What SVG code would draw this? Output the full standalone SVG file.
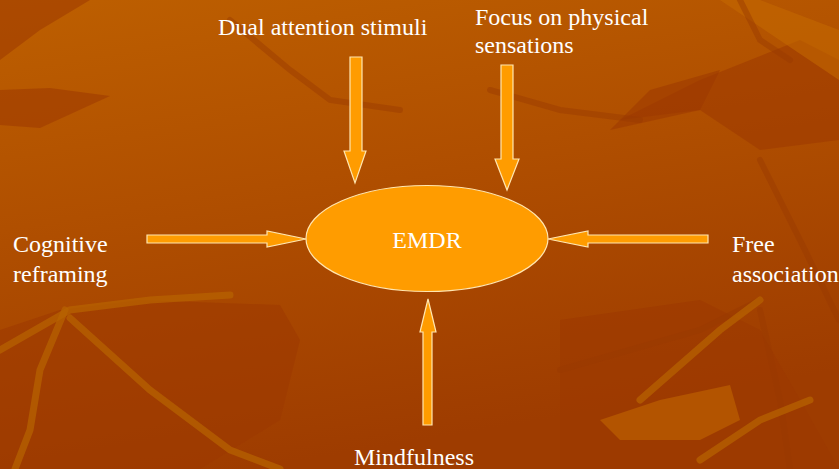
<svg xmlns="http://www.w3.org/2000/svg" width="839" height="469" viewBox="0 0 839 469">
<defs>
<linearGradient id="bg" x1="0" y1="0" x2="0.3" y2="1">
<stop offset="0" stop-color="#bd5f00"/>
<stop offset="0.45" stop-color="#b04f00"/>
<stop offset="1" stop-color="#9e3c00"/>
</linearGradient>
<style>
.lbl{font-family:"Liberation Serif","Times New Roman",serif;font-size:24px;fill:#ffffff}
.arrow{fill:#ff9c00;stroke:#ffe6b0;stroke-width:1.2;stroke-linejoin:miter}
.dark{fill:#9c3800;opacity:0.55}
.light{fill:#c46a00;opacity:0.55}
.vein{fill:none;stroke:#b86400;stroke-width:7;stroke-linecap:round;opacity:0.7}
.dvein{fill:none;stroke:#9a3a00;stroke-width:6;stroke-linecap:round;opacity:0.45}
</style>
</defs>
<g id="background">
<rect width="839" height="469" fill="url(#bg)"/>
<path class="dark" d="M0 60 L40 30 L90 0 L0 0 Z"/>
<path class="dark" d="M0 90 L50 88 L110 96 L40 128 L0 125 Z"/>
<path class="dark" d="M0 330 L60 310 L140 300 L280 305 L300 340 L280 420 L200 469 L0 469 Z"/>
<path class="dark" d="M560 320 L700 300 L760 330 L800 400 L839 469 L560 469 Z"/>
<path class="dark" d="M620 120 L700 80 L800 40 L839 60 L839 140 L760 150 L700 110 Z"/>
<path class="dark" d="M610 130 L650 90 L720 70 L700 110 Z"/>
<path class="light" d="M600 420 L660 400 L730 385 L740 420 L700 440 L620 440 Z"/>
<path class="light" d="M720 0 L760 0 L839 30 L839 80 Z" opacity="0.4"/>
<path class="dvein" d="M230 20 L290 70 L330 100 L400 110"/>
<path class="dvein" d="M490 90 L560 110 L640 120"/>
<path class="dvein" d="M740 0 L760 40 L790 60"/>
<path class="dvein" d="M760 160 L800 240 L839 320"/>
<path class="dvein" d="M560 370 L700 330 L760 300"/>
<path class="dvein" d="M760 310 L780 400 L790 469"/>
<path class="vein" d="M0 350 L70 310 L150 300 L230 295"/>
<path class="vein" d="M65 310 L40 370 L30 430 L15 469"/>
<path class="vein" d="M70 318 L150 390 L230 450 L280 469"/>
<path class="vein" d="M640 400 L720 330 L760 300"/>
<path class="vein" d="M700 460 L760 420 L810 400" opacity="0.5"/>
</g>
<g id="connectors">
<polygon id="arrow-dual" class="arrow" points="350,57 362,57 362,151 366,151 355,183 344,151 350,151"/>
<polygon id="arrow-focus" class="arrow" points="501,65 513,65 513,159 519,159 507,190 495,159 501,159"/>
<polygon id="arrow-cognitive" class="arrow" points="147,235 267,235 267,231 306,239 267,247 267,243 147,243"/>
<polygon id="arrow-free" class="arrow" points="708,235 588,235 588,231 548,239 588,247 588,243 708,243"/>
<polygon id="arrow-mind" class="arrow" points="423,425 432,425 432,332 436,332 428,299 420,332 423,332"/>
</g>
<g id="node-emdr">
<ellipse cx="427" cy="238.5" rx="121" ry="53" fill="#ff9c00" stroke="#ffe6b0" stroke-width="1.2"/>
<text class="lbl" x="427" y="248" text-anchor="middle">EMDR</text>
</g>
<g id="node-dual">
<text class="lbl" x="218" y="35">Dual attention stimuli</text>
</g>
<g id="node-focus">
<text class="lbl" x="475" y="25">Focus on physical</text>
<text class="lbl" x="475" y="53">sensations</text>
</g>
<g id="node-cognitive">
<text class="lbl" x="13" y="252">Cognitive</text>
<text class="lbl" x="13" y="282">reframing</text>
</g>
<g id="node-free">
<text class="lbl" x="732" y="252">Free</text>
<text class="lbl" x="732" y="282">association</text>
</g>
<g id="node-mindfulness">
<text class="lbl" x="354" y="465">Mindfulness</text>
</g>
</svg>
